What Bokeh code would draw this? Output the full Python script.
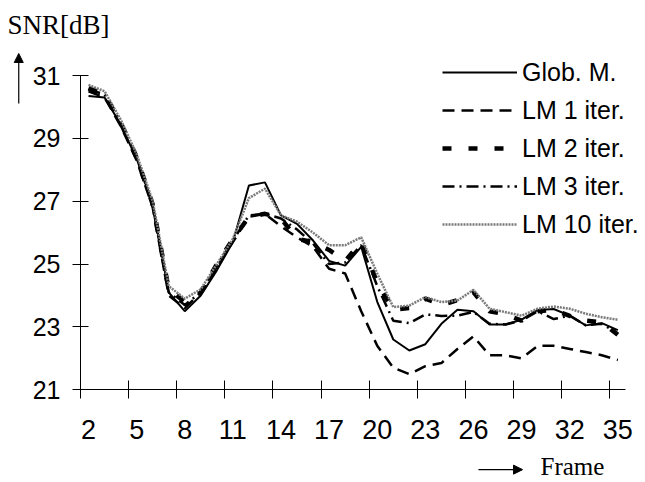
from bokeh.plotting import figure
from bokeh.models import (LinearAxis, FixedTicker, Range1d, Legend, LegendItem,
                          Label, Arrow, NormalHead)
from bokeh.embed import file_html
from bokeh.resources import INLINE

# ---------------- data ----------------
frames = list(range(2, 36))

glob_m = [30.35, 30.30, 29.45, 28.35, 26.90, 24.10, 23.50, 24.00, 24.80, 25.70,
          27.50, 27.60, 26.55, 26.28, 25.75, 25.10, 24.95, 25.55, 23.80, 22.60,
          22.25, 22.45, 23.10, 23.55, 23.50, 23.08, 23.08, 23.23, 23.54, 23.57,
          23.36, 23.05, 23.12, 22.90]

lm1 = [30.50, 30.30, 29.40, 28.30, 26.80, 24.00, 23.60, 24.10, 24.90, 25.70,
       26.50, 26.60, 26.20, 25.85, 25.55, 24.85, 24.70, 23.50, 22.40, 21.70,
       21.50, 21.75, 21.85, 22.30, 22.70, 22.10, 22.10, 22.00, 22.40, 22.40,
       22.30, 22.20, 22.10, 21.95]

lm2 = [30.60, 30.40, 29.50, 28.40, 26.90, 24.20, 23.80, 24.10, 25.00, 25.80,
       26.50, 26.60, 26.45, 25.80, 25.70, 25.45, 25.10, 25.70, 24.40, 23.55,
       23.60, 23.90, 23.70, 23.85, 24.10, 23.50, 23.40, 23.20, 23.50, 23.55,
       23.35, 23.20, 23.15, 22.75]

lm3 = [30.55, 30.40, 29.50, 28.40, 26.85, 24.10, 23.70, 24.10, 24.95, 25.75,
       26.55, 26.60, 26.45, 26.10, 25.65, 25.00, 25.05, 25.60, 24.30, 23.20,
       23.12, 23.40, 23.35, 23.36, 23.48, 23.10, 23.08, 23.20, 23.50, 23.25,
       23.36, 23.05, 23.10, 22.80]

lm10 = [30.70, 30.50, 29.60, 28.50, 27.00, 24.30, 23.90, 24.20, 25.00, 25.80,
        27.10, 27.40, 26.55, 26.35, 26.00, 25.60, 25.60, 25.85, 24.70, 23.63,
        23.68, 23.95, 23.79, 23.84, 24.18, 23.58, 23.47, 23.36, 23.58, 23.65,
        23.58, 23.42, 23.31, 23.23]

y_ticks = [21, 23, 25, 27, 29, 31]
x_tick_labels = [2, 5, 8, 11, 14, 17, 20, 23, 26, 29, 32, 35]
x_tick_bounds = [f - 0.5 for f in x_tick_labels]

series_names = ["Glob. M.", "LM 1 iter.", "LM 2 iter.", "LM 3 iter.", "LM 10 iter."]

SANS = "Liberation Sans"
SERIF = "Liberation Serif"

# ---------------- geometry (canvas = whole window) ----------------
W, H = 645, 482
X0_PX, PX_PER_FRAME = 80.0, 16.04      # pixel of x = 1.5, pixels per frame
Y31_PX, PX_PER_DB = 75.0, 31.43        # pixel of y = 31, pixels per dB
x_lo = 1.5 - X0_PX / PX_PER_FRAME
x_hi = 1.5 + (W - X0_PX) / PX_PER_FRAME
y_hi = 31 + Y31_PX / PX_PER_DB
y_lo = 31 - (H - Y31_PX) / PX_PER_DB

p = figure(width=W, height=H, output_backend="svg", toolbar_location=None,
           x_range=Range1d(x_lo, x_hi), y_range=Range1d(y_lo, y_hi),
           min_border=0, min_border_left=0, min_border_right=0,
           min_border_top=0, min_border_bottom=0)
p.grid.visible = False
p.outline_line_color = None
p.background_fill_color = "white"
p.border_fill_color = "white"

# x axis with tick marks at category boundaries (no labels)
xa = p.xaxis[0]
xa.fixed_location = y_ticks[0]
xa.bounds = (x_tick_bounds[0], x_tick_labels[-1] + 0.5)
xa.ticker = FixedTicker(ticks=x_tick_bounds)
xa.major_label_overrides = {b: "" for b in x_tick_bounds}
xa.major_label_standoff = 0
xa.major_tick_in = 9
xa.major_tick_out = 9
xa.minor_tick_line_color = None
xa.axis_line_color = "black"
xa.major_tick_line_color = "black"
xa.axis_line_width = 1

# second x axis: labels at category centres
xl = LinearAxis(ticker=FixedTicker(ticks=x_tick_labels),
                fixed_location=y_ticks[0],
                axis_line_color=None, major_tick_line_color=None,
                minor_tick_line_color=None, major_tick_in=0, major_tick_out=0,
                major_label_standoff=30,
                major_label_text_font=SANS, major_label_text_font_size="27px",
                major_label_text_color="black")
p.add_layout(xl, "below")

ya = p.yaxis[0]
ya.fixed_location = x_tick_bounds[0]
ya.bounds = (y_ticks[0], y_ticks[-1])
ya.ticker = FixedTicker(ticks=y_ticks)
ya.major_tick_in = 8
ya.major_tick_out = 8
ya.minor_tick_line_color = None
ya.major_label_standoff = 12
ya.major_label_text_font = SANS
ya.major_label_text_font_size = "25px"
ya.major_label_text_color = "black"
ya.axis_line_color = "black"
ya.major_tick_line_color = "black"

# ---------------- lines ----------------
r_glob = p.line(frames, glob_m, line_color="black", line_width=2)
r_lm1 = p.line(frames, lm1, line_color="black", line_width=2.5, line_dash="12 7")
r_lm2 = p.line(frames, lm2, line_color="black", line_width=4.5, line_dash="9 17")
r_lm3 = p.line(frames, lm3, line_color="black", line_width=2.5, line_dash="12 5 2 5")
r_lm10 = p.line(frames, lm10, line_color="#7a7a7a", line_width=2.5, line_dash="2 1")

renderers = [r_glob, r_lm1, r_lm2, r_lm3, r_lm10]
legend = Legend(items=[LegendItem(label=n, renderers=[r]) for n, r in zip(series_names, renderers)],
                location=(442, 243), orientation="vertical",
                glyph_width=75, glyph_height=30, label_height=30, label_standoff=5,
                spacing=8, padding=0, margin=0, border_line_color=None,
                background_fill_alpha=0,
                label_text_font=SANS, label_text_font_size="25px",
                label_text_color="black")
p.add_layout(legend, "center")

# ---------------- axis titles with arrows ----------------
p.add_layout(Label(x=-3.05, y=32.62, text="SNR[dB]", text_font=SERIF,
                   text_font_size="27px", text_color="black",
                   text_baseline="alphabetic", text_align="left"))
p.add_layout(Arrow(x_start=-2.35, y_start=30.11, x_end=-2.35, y_end=31.70,
                   line_color="black", line_width=1.2,
                   end=NormalHead(size=9, fill_color="black", line_color="black")))

p.add_layout(Label(x=30.18, y=18.56, text="Frame", text_font=SERIF,
                   text_font_size="25px", text_color="black",
                   text_baseline="alphabetic", text_align="left"))
p.add_layout(Arrow(x_start=26.31, y_start=18.46, x_end=29.06, y_end=18.46,
                   line_color="black", line_width=1.2,
                   end=NormalHead(size=9, fill_color="black", line_color="black")))

open("out.html", "w").write(file_html(p, INLINE))
